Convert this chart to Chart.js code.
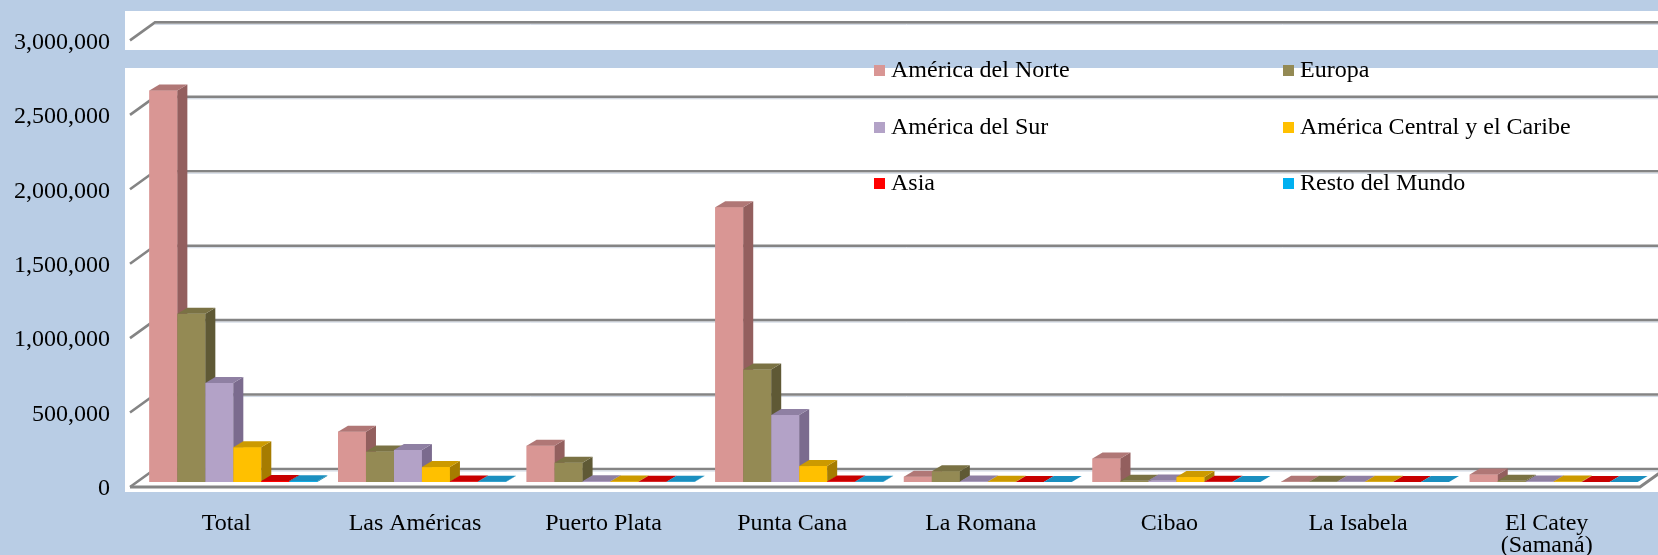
<!DOCTYPE html>
<html>
<head>
<meta charset="utf-8">
<script src="https://cdn.jsdelivr.net/npm/chart.js@4.4.1/dist/chart.umd.min.js"></script>
<style>
  html, body { margin: 0; padding: 0; background: #b9cde5; }
  #wrap { width: 1658px; height: 555px; }
</style>
</head>
<body>
<div id="wrap"><canvas id="llegadas" width="1658" height="555"></canvas></div>
<script>
// aeropuertos
const categories = ['Total', 'Las Américas', 'Puerto Plata', 'Punta Cana', 'La Romana', 'Cibao', 'La Isabela', ['El Catey', '(Samaná)']];
const seriesNames = ['América del Norte', 'Europa', 'América del Sur', 'América Central y el Caribe', 'Asia', 'Resto del Mundo'];

// pasajeros no residentes por región de residencia
const norte   = [2630000, 338000, 244000, 1845000, 36000, 158000, 2000, 50000];
const europa  = [1130000, 205000, 130000, 755000, 72000, 8000, 1000, 8000];
const sur     = [665000, 215000, 5000, 450000, 3000, 10000, 1000, 3000];
const central = [234000, 100000, 4000, 107000, 2000, 33000, 2000, 3000];
const asia    = [7000, 3000, 1000, 3000, 500, 1000, 200, 500];
const resto   = [5000, 2000, 1000, 2000, 500, 500, 200, 500];

const yTicks = [0, 500000, 1000000, 1500000, 2000000, 2500000, 3000000];

const caras = [
    {frente: '#d99694', lado: '#935f5e', tapa: '#b07776'},
    {frente: '#948a54', lado: '#5f5935', tapa: '#7a7244'},
    {frente: '#b3a2c7', lado: '#7b6b8e', tapa: '#8f80a3'},
    {frente: '#ffc000', lado: '#a67c00', tapa: '#cc9a00'},
    {frente: '#ff0000', lado: '#9e0000', tapa: '#c80000'},
    {frente: '#00b0f0', lado: '#00799f', tapa: '#1a8fc0'},
];

const DX = 10, DY = -6;     // fondo de cada barra
const WX = 25, WY = -18;    // fondo de la pared
const fuente = '"Liberation Serif", "Times New Roman", serif';

const efecto3d = {
    id: 'efecto3d',
    beforeDraw(chart) {
        const {ctx, width} = chart;
        ctx.save();
        ctx.fillStyle = '#b9cde5';
        ctx.fillRect(0, 0, width, chart.height);
        ctx.fillStyle = '#ffffff';
        ctx.fillRect(125, 11, width - 125, 481);
        ctx.fillStyle = '#b9cde5';
        ctx.fillRect(125, 50, width - 125, 18);
        ctx.restore();
    },
    beforeDatasetsDraw(chart) {
        const {ctx, chartArea: a, scales: {y}} = chart;
        const x0 = a.left - 9;
        ctx.save();
        yTicks.forEach(v => {
            const yf = y.getPixelForValue(v) + 5;
            ctx.strokeStyle = '#848484';
            ctx.lineWidth = 2.6;
            ctx.beginPath();
            ctx.moveTo(x0, yf);
            ctx.lineTo(x0 + WX, yf + WY);
            ctx.lineTo(chart.width, yf + WY);
            ctx.stroke();
            ctx.strokeStyle = '#cfd7e3';
            ctx.lineWidth = 1;
            ctx.beginPath();
            ctx.moveTo(x0 + WX, yf + WY + 2);
            ctx.lineTo(chart.width, yf + WY + 2);
            ctx.stroke();
        });
        // piso
        const yp = y.getPixelForValue(0) + 5;
        ctx.strokeStyle = '#848484';
        ctx.lineWidth = 3;
        ctx.beginPath();
        ctx.moveTo(x0, yp);
        ctx.lineTo(a.right - 8, yp);
        ctx.lineTo(a.right - 8 + WX, yp + WY);
        ctx.stroke();
        ctx.restore();
    },
    afterDatasetsDraw(chart) {
        const ctx = chart.ctx;
        const metas = chart.data.datasets.map((d, i) => chart.getDatasetMeta(i));
        ctx.save();
        for (let c = 0; c < categories.length; c++) {
            metas.forEach((m, i) => {
                const {x, y, base, width} = m.data[c].getProps(['x', 'y', 'base', 'width'], true);
                const l = x - width / 2, r = x + width / 2;
                const f = caras[i];
                ctx.fillStyle = f.frente;
                ctx.fillRect(l, y, width, base - y);
                ctx.fillStyle = f.lado;
                ctx.beginPath();
                ctx.moveTo(r, y);
                ctx.lineTo(r + DX, y + DY);
                ctx.lineTo(r + DX, base + DY);
                ctx.lineTo(r, base);
                ctx.closePath();
                ctx.fill();
                ctx.fillStyle = f.tapa;
                ctx.beginPath();
                ctx.moveTo(l, y);
                ctx.lineTo(r, y);
                ctx.lineTo(r + DX, y + DY);
                ctx.lineTo(l + DX, y + DY);
                ctx.closePath();
                ctx.fill();
            });
        }
        ctx.restore();
    },
    afterDraw(chart) {
        // leyenda en dos columnas
        const ctx = chart.ctx;
        const cols = [874, 1283], rows = [71, 128, 184];
        ctx.save();
        ctx.font = '24px ' + fuente;
        ctx.textBaseline = 'middle';
        seriesNames.forEach((n, i) => {
            const bx = cols[i % 2], by = rows[Math.floor(i / 2)];
            ctx.fillStyle = caras[i].frente;
            ctx.fillRect(bx, by - 6, 11, 11);
            ctx.fillStyle = '#000000';
            ctx.fillText(n, bx + 17, by);
        });
        ctx.restore();
    }
};

const series = [norte, europa, sur, central, asia, resto];

new Chart(document.getElementById('llegadas'), {
    type: 'bar',
    data: {
        labels: categories,
        datasets: series.map((s, i) => ({
            label: seriesNames[i],
            data: s,
            backgroundColor: caras[i].frente,
            borderWidth: 0,
            categoryPercentage: 0.89,
            barPercentage: 1.0
        }))
    },
    options: {
        responsive: false,
        animation: false,
        layout: {padding: {top: 22, right: 10, left: 0, bottom: 0}},
        plugins: {
            legend: {display: false},
            tooltip: {enabled: false}
        },
        scales: {
            x: {
                grid: {display: false},
                border: {display: false},
                ticks: {
                    color: '#000000',
                    font: {family: fuente, size: 24, lineHeight: 0.95},
                    padding: 22,
                    labelOffset: -7,
                    maxRotation: 0,
                    autoSkip: false
                },
                afterFit(scale) { scale.height = 73; }
            },
            y: {
                min: 0,
                max: 3000000,
                grid: {display: false},
                border: {display: false},
                ticks: {
                    stepSize: 500000,
                    color: '#000000',
                    font: {family: fuente, size: 24},
                    padding: 21,
                    labelOffset: 7,
                    callback: v => v.toLocaleString('en-US')
                },
                afterFit(scale) { scale.width = 139; }
            }
        }
    },
    plugins: [efecto3d]
});
</script>
</body>
</html>
